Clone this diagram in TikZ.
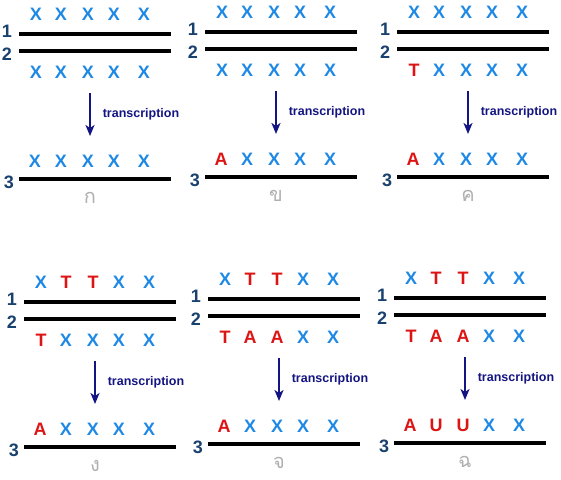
\documentclass[tikz,border=0pt]{standalone}
\usepackage{fontspec}
\setmainfont{Liberation Sans}
\newfontfamily\thaifont[Script=Thai]{Loma}
\usetikzlibrary{calc,arrows.meta}
\definecolor{B}{RGB}{30,136,229}
\definecolor{R}{RGB}{220,20,20}
\definecolor{numblue}{RGB}{25,65,110}
\definecolor{arrowblue}{RGB}{20,20,130}
\definecolor{labelgray}{RGB}{175,175,175}
\tikzset{
  base/.style={font=\fontsize{18}{18}\selectfont\bfseries, inner sep=0pt},
  strand/.style={draw, line width=4pt},
  strandno/.style={font=\fontsize{18}{18}\selectfont\bfseries, text=numblue, inner sep=0pt},
  txarrow/.style={draw=arrowblue, line width=2.5pt, -{Stealth[length=11pt,width=9pt,inset=3pt]}},
  txlabel/.style={font=\fontsize{12.5}{12.5}\selectfont\bfseries, text=arrowblue, inner sep=0pt},
  panellabel/.style={font=\thaifont\fontsize{20}{20}\selectfont, text=labelgray, inner sep=0pt}
}
% one panel: name, start of strand 1, strand 1 bases, strand 2 bases, RNA bases, label
\newcommand{\dnapanel}[6]{%
  \coordinate (#1-a1) at #2;
  \coordinate (#1-b1) at ($(#1-a1)+(152,0)$);
  \coordinate (#1-a2) at ($(#1-a1)+(0,17)$);
  \coordinate (#1-b2) at ($(#1-a1)+(152,17)$);
  \coordinate (#1-a3) at ($(#1-a1)+(0,145)$);
  \coordinate (#1-b3) at ($(#1-a1)+(152,145)$);
  \coordinate (#1-from) at ($(#1-a1)+(71,59)$);
  \coordinate (#1-to) at ($(#1-a1)+(71,102)$);
  \draw[strand] (#1-a1) -- (#1-b1);
  \draw[strand] (#1-a2) -- (#1-b2);
  \draw[strand] (#1-a3) -- (#1-b3);
  \node[strandno] (#1-n1) at ($(#1-a1)+(-12,-3)$) {1};
  \node[strandno] (#1-n2) at ($(#1-a2)+(-12,3)$) {2};
  \node[strandno] (#1-n3) at ($(#1-a3)+(-10,3)$) {3};
  \foreach \c/\l [count=\i from 0] in {#3} {
    \pgfmathsetmacro\bx{{17,42,69,95,125}[\i]}
    \node[base, text=\c] (#1-t\i) at ($(#1-a1)+(\bx,-20)$) {\l};
  }
  \foreach \c/\l [count=\i from 0] in {#4} {
    \pgfmathsetmacro\bx{{17,42,69,95,125}[\i]}
    \node[base, text=\c] (#1-d\i) at ($(#1-a2)+(\bx,21)$) {\l};
  }
  \foreach \c/\l [count=\i from 0] in {#5} {
    \pgfmathsetmacro\bx{{16,42,69,95,125}[\i]}
    \node[base, text=\c] (#1-r\i) at ($(#1-a3)+(\bx,-18)$) {\l};
  }
  \draw[txarrow] (#1-from) -- (#1-to);
  \node[txlabel] (#1-tx) at ($(#1-a1)+(122,80)$) {transcription};
  \node[panellabel] (#1-lab) at ($(#1-a3)+(71,19)$) {#6};
}

\begin{document}
\begin{tikzpicture}[x=1pt, y=-1pt]
    \useasboundingbox (0,0) rectangle (561,479);

    \dnapanel{ka}{(19,34)}{B/X,B/X,B/X,B/X,B/X}{B/X,B/X,B/X,B/X,B/X}{B/X,B/X,B/X,B/X,B/X}{ก}
    \dnapanel{kho}{(205,32)}{B/X,B/X,B/X,B/X,B/X}{B/X,B/X,B/X,B/X,B/X}{R/A,B/X,B/X,B/X,B/X}{ข}
    \dnapanel{kho2}{(397,32)}{B/X,B/X,B/X,B/X,B/X}{R/T,B/X,B/X,B/X,B/X}{R/A,B/X,B/X,B/X,B/X}{ค}

    \dnapanel{ngo}{(24,302)}{B/X,R/T,R/T,B/X,B/X}{R/T,B/X,B/X,B/X,B/X}{R/A,B/X,B/X,B/X,B/X}{ง}
    \dnapanel{cho}{(208,299)}{B/X,R/T,R/T,B/X,B/X}{R/T,R/A,R/A,B/X,B/X}{R/A,B/X,B/X,B/X,B/X}{จ}
    \dnapanel{chi}{(394,298)}{B/X,R/T,R/T,B/X,B/X}{R/T,R/A,R/A,B/X,B/X}{R/A,R/U,R/U,B/X,B/X}{ฉ}
\end{tikzpicture}
\end{document}
